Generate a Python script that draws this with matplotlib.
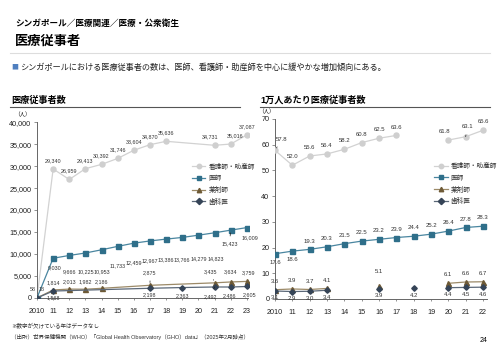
import numpy as np
import matplotlib
matplotlib.use("Agg")
import matplotlib.pyplot as plt
from matplotlib.ticker import FuncFormatter

plt.rcParams['font.family'] = ['Liberation Sans', 'Noto Sans CJK JP']
JP = ['Noto Sans CJK JP']

# ---- data: total counts (left) ----
years_l = [2010, 2011, 2012, 2013, 2014, 2015, 2016, 2017, 2018, 2019, 2020, 2021, 2022, 2023]
nurse_l = [58, 29340, 26959, 29413, 30392, 31746, 33604, 34870, 35636, None, None, 34731, 35016, 37087]
doctor_l = [18, 9030, 9666, 10225, 10953, 11733, 12459, 12967, 13386, 13766, 14279, 14823, 15423, 16009]
pharm_l = [4, 1814, 2013, 1982, 2186, None, None, 2875, None, None, None, 3435, 3634, 3759]
dent_l = [3, 1568, None, None, None, None, None, 2198, None, 2363, None, 2492, 2486, 2605]

# ---- data: per 10,000 people (right) ----
years_r = [2010, 2011, 2012, 2013, 2014, 2015, 2016, 2017, 2018, 2019, 2020, 2021, 2022]
nurse_r = [57.8, 52.0, 55.6, 56.4, 58.2, 60.8, 62.5, 63.6, None, None, 61.8, 63.1, 65.6]
doctor_r = [17.6, 18.6, 19.3, 20.3, 21.5, 22.5, 23.2, 23.9, 24.4, 25.2, 26.4, 27.8, 28.3]
pharm_r = [3.6, 3.9, 3.7, 4.1, None, None, 5.1, None, None, None, 6.1, 6.6, 6.7]
dent_r = [3.1, 2.9, 3.0, 3.4, None, None, 3.9, None, 4.2, None, 4.4, 4.5, 4.6]

names = ["看護師・助産師", "医師", "薬剤師", "歯科医"]
xt_left = ["2010", "11", "12", "13", "14", "15", "16", "17", "18", "19", "20", "21", "22", "23"]
xt_right = ["2010", "11", "12", "13", "14", "15", "16", "17", "18", "19", "20", "21", "22"]

styles = [
    dict(color="#d2d2d2", marker="o", mfc="#cfcfcf", mec="#cfcfcf"),
    dict(color="#4a86a0", marker="s", mfc="#2f6f8a", mec="#2f6f8a"),
    dict(color="#9c8a68", marker="^", mfc="#6e5a36", mec="#6e5a36"),
    dict(color="#5b6878", marker="D", mfc="#354457", mec="#354457"),
]


def arr(v):
    return np.array([np.nan if x is None else x for x in v], dtype=float)


def draw(ax, years, series, connect, fmt, offsets, special, leaders, fs):
    handles = []
    for i, (vals, st) in enumerate(zip(series, styles)):
        y = arr(vals)
        x = np.array(years)
        if connect:
            m = ~np.isnan(y)
            lx, ly = x[m], y[m]
        else:
            lx, ly = x, y
        ax.plot(lx, ly, color=st["color"], lw=0.9, zorder=2 + i)
        ax.plot(x, y, ls="none", marker=st["marker"], mfc=st["mfc"], mec=st["mec"],
                ms=3.6 if st["marker"] != "D" else 2.8, zorder=3 + i)
        handles.append(ax.plot([], [], color=st["color"], lw=0.9, marker=st["marker"],
                               mfc=st["mfc"], mec=st["mec"], ms=3.2)[0])
        for xx, yy in zip(x, y):
            if np.isnan(yy):
                continue
            off = special.get((i, int(xx)), offsets[i])
            if off is None:
                continue
            ap = None
            if (i, int(xx)) in leaders:
                ap = dict(arrowstyle="-", color="#222222", lw=0.5, shrinkA=2, shrinkB=2)
            ax.annotate(fmt(yy), (xx, yy), xytext=off, textcoords="offset points",
                        ha="center", va="center", fontsize=fs, color="#333333",
                        arrowprops=ap, zorder=10)
    return handles


def style_axes(ax, labels, years):
    for s in ["top", "right"]:
        ax.spines[s].set_visible(False)
    for s in ["left", "bottom"]:
        ax.spines[s].set_color("#666666")
        ax.spines[s].set_linewidth(0.7)
    ax.set_xticks(years)
    ax.set_xticklabels(labels)
    ax.tick_params(axis="x", length=1.5, width=0.5, colors="#666666", labelsize=5.2,
                   labelcolor="#222222", pad=6)
    ax.tick_params(axis="y", length=2, width=0.5, colors="#666666", labelsize=5.2,
                   labelcolor="#222222", pad=2)


fig = plt.figure(figsize=(5.0, 3.53), dpi=100)

# header
fig.text(0.03, 0.935, "シンガポール／医療関連／医療・公衆衛生", fontsize=6.2, fontweight="bold",
         va="center", family=JP)
fig.text(0.03, 0.885, "医療従事者", fontsize=9.5, fontweight="bold", va="center", family=JP)
fig.add_artist(plt.Line2D([0.02, 0.98], [0.850, 0.850], color="#dddddd", lw=0.8))
fig.text(0.022, 0.810, "■", fontsize=5, color="#4f7fbf", va="center", family=JP)
fig.text(0.04, 0.810, "シンガポールにおける医療従事者の数は、医師、看護師・助産師を中心に緩やかな増加傾向にある。",
         fontsize=5.9, va="center", color="#222222", family=JP)

fig.text(0.022, 0.717, "医療従事者数", fontsize=6.6, fontweight="bold", va="center", family=JP)
fig.add_artist(plt.Line2D([0.02, 0.48], [0.697, 0.697], color="#555555", lw=0.8))
fig.text(0.52, 0.717, "1万人あたり医療従事者数", fontsize=6.6, fontweight="bold", va="center")
fig.add_artist(plt.Line2D([0.52, 0.98], [0.697, 0.697], color="#555555", lw=0.8))

# ---- left chart ----
axl = fig.add_axes([0.074, 0.156, 0.423, 0.498])
fmt_l = lambda v: f"{int(round(v)):,}"
off_l = [(0, 6), (0, -7), (0, 5), (0, -5)]
special_l = {
    (0, 2010): (-3, 6), (1, 2010): (3, 6), (2, 2010): None, (3, 2010): None,
    (1, 2011): (1, -7), (1, 2012): (0, -12), (1, 2013): (0, -13.5), (1, 2014): (0, -15.5),
    (1, 2015): (0, -14), (1, 2016): (0, -14), (1, 2017): (0, -14), (1, 2018): (0, -15),
    (1, 2019): (0, -16), (1, 2020): (0, -17), (1, 2021): (1, -19),
    (1, 2022): (-1, -10), (1, 2023): (2, -7),
    (2, 2017): (0, 9), (2, 2021): (-3, 8), (2, 2022): (0, 7), (2, 2023): (1, 6),
    (3, 2019): (0, -6), (3, 2021): (-3, -7), (3, 2022): (-1, -6), (3, 2023): (2, -6),
    (0, 2021): (-3, 6), (0, 2022): (3, 6),
}
leaders_l = {(1, 2022), (2, 2017), (2, 2021), (3, 2021)}
h = draw(axl, years_l, [nurse_l, doctor_l, pharm_l, dent_l], True, fmt_l, off_l, special_l,
         leaders_l, 3.9)
axl.set_xlim(2010, 2023.1)
axl.set_ylim(0, 40000)
axl.set_yticks(range(0, 40001, 5000))
axl.yaxis.set_major_formatter(FuncFormatter(lambda v, p: f"{int(v):,}"))
style_axes(axl, xt_left, years_l)
axl.text(-0.07, 1.045, "（人）", transform=axl.transAxes, fontsize=4, ha="center", va="center", family=JP)
axl.legend(h, names, loc="upper left", bbox_to_anchor=(0.72, 0.785), frameon=False,
           handlelength=2.0, labelspacing=0.55, handletextpad=0.5,
           borderaxespad=0, labelcolor="#333333", prop=dict(family=JP, size=4.8))

# ---- right chart ----
axr = fig.add_axes([0.55, 0.153, 0.423, 0.510])
fmt_r = lambda v: f"{v:.1f}"
off_r = [(0, 6), (0, 6), (0, 6), (0, -5)]
special_r = {
    (0, 2010): (5, 8), (0, 2020): (-3, 6), (0, 2021): (1, 7),
    (1, 2010): (0, -6), (1, 2011): (0, -6),
    (2, 2016): (0, 10), (3, 2016): (0, -5),
}
leaders_r = {(0, 2010), (0, 2021)}
h2 = draw(axr, years_r, [nurse_r, doctor_r, pharm_r, dent_r], False, fmt_r, off_r, special_r,
          leaders_r, 4.3)
axr.set_xlim(2010, 2022.2)
axr.set_ylim(0, 70)
axr.set_yticks(range(0, 71, 10))
style_axes(axr, xt_right, years_r)
axr.text(-0.04, 1.04, "（人）", transform=axr.transAxes, fontsize=4, ha="center", va="center", family=JP)
axr.legend(h2, names, loc="upper left", bbox_to_anchor=(0.74, 0.775), frameon=False,
           handlelength=2.0, labelspacing=0.55, handletextpad=0.5,
           borderaxespad=0, labelcolor="#333333", prop=dict(family=JP, size=4.8))

# footnotes
fig.text(0.022, 0.075, "※数字が欠けている年はデータなし", fontsize=4, color="#333333", va="center", family=JP)
fig.text(0.022, 0.045, "（出所）世界保健機関（WHO）「Global Health Observatory（GHO）data」（2025年2月時点）",
         fontsize=4, color="#333333", va="center")
fig.text(0.975, 0.035, "24", fontsize=5, ha="right", va="center")

fig.savefig("out.png", dpi=100)
